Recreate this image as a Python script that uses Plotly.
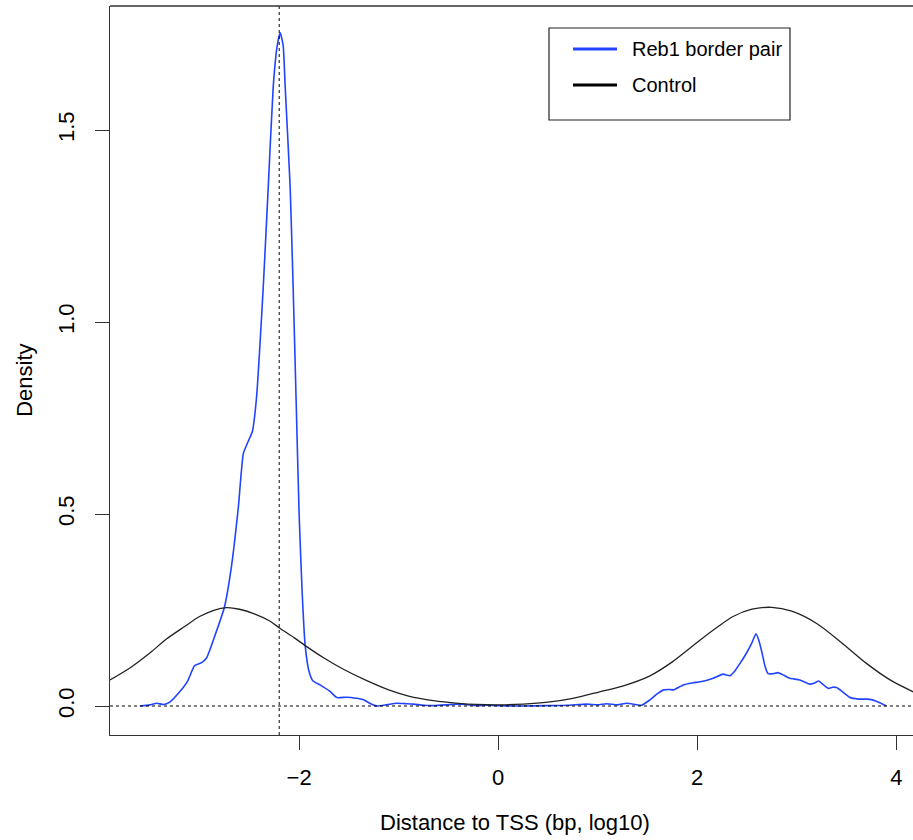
import plotly.graph_objects as go

# Blue density curve (Reb1 border pair)
reb1_x = [-3.60, -3.50, -3.43, -3.36, -3.30, -3.20, -3.12, -3.05, -2.98, -2.93, -2.83, -2.75,
          -2.68, -2.61, -2.56, -2.51, -2.47, -2.43, -2.36, -2.31, -2.26, -2.22, -2.19, -2.16,
          -2.14, -2.09, -2.06, -2.03, -2.00, -1.97, -1.94, -1.90, -1.86, -1.79, -1.69, -1.62,
          -1.52, -1.42, -1.36, -1.28, -1.22, -1.12, -1.02, -0.92, -0.85, -0.75, -0.65, -0.52,
          -0.42, -0.32, -0.22, -0.12, 0.00, 0.20, 0.50, 0.70, 0.89, 1.00, 1.09, 1.20, 1.29,
          1.38, 1.44, 1.52, 1.60, 1.66, 1.72, 1.76, 1.86, 1.95, 2.03, 2.10, 2.16, 2.26, 2.33,
          2.38, 2.43, 2.50, 2.55, 2.59, 2.62, 2.65, 2.68, 2.71, 2.76, 2.81, 2.87, 2.93, 3.03,
          3.13, 3.18, 3.22, 3.27, 3.32, 3.36, 3.40, 3.47, 3.53, 3.62, 3.70, 3.76, 3.84, 3.90]
reb1_y = [0.000, 0.003, 0.007, 0.004, 0.010, 0.037, 0.065, 0.105, 0.113, 0.125, 0.195, 0.258,
          0.363, 0.519, 0.658, 0.690, 0.715, 0.797, 1.092, 1.352, 1.613, 1.720, 1.753, 1.720,
          1.613, 1.352, 1.092, 0.797, 0.500, 0.300, 0.160, 0.090, 0.065, 0.055, 0.038, 0.022,
          0.023, 0.020, 0.017, 0.006, 0.000, 0.003, 0.007, 0.006, 0.005, 0.002, 0.001, 0.003,
          0.005, 0.004, 0.001, 0.002, 0.001, 0.000, 0.001, 0.002, 0.005, 0.003, 0.006, 0.003,
          0.007, 0.004, 0.002, 0.015, 0.032, 0.042, 0.043, 0.042, 0.055, 0.060, 0.063, 0.067,
          0.072, 0.083, 0.079, 0.092, 0.111, 0.140, 0.165, 0.188, 0.170, 0.140, 0.105, 0.085,
          0.084, 0.087, 0.080, 0.072, 0.068, 0.057, 0.060, 0.065, 0.055, 0.046, 0.049, 0.048,
          0.035, 0.023, 0.018, 0.018, 0.016, 0.008, 0.000]

# Black density curve (Control)
ctrl_x = [-3.90, -3.70, -3.50, -3.33, -3.15, -3.00, -2.85, -2.73, -2.60, -2.45, -2.30, -2.19,
          -2.05, -1.92, -1.75, -1.55, -1.32, -1.10, -0.90, -0.65, -0.40, -0.22, 0.00, 0.25,
          0.50, 0.75, 1.02, 1.25, 1.52, 1.75, 2.03, 2.20, 2.36, 2.55, 2.75, 2.95, 3.20, 3.45,
          3.70, 3.95, 4.17]
ctrl_y = [0.068, 0.099, 0.138, 0.175, 0.207, 0.233, 0.250, 0.256, 0.252, 0.240, 0.222, 0.202,
          0.178, 0.154, 0.125, 0.095, 0.066, 0.042, 0.026, 0.014, 0.007, 0.004, 0.003, 0.005,
          0.010, 0.020, 0.037, 0.052, 0.078, 0.115, 0.172, 0.205, 0.233, 0.252, 0.257, 0.247,
          0.215, 0.165, 0.111, 0.066, 0.037]

x_ticks = [-2, 0, 2, 4]
y_ticks = [0.0, 0.5, 1.0, 1.5]
y_tick_text = ["0.0", "0.5", "1.0", "1.5"]
tss_mark = -2.2
series_names = ["Reb1 border pair", "Control"]
series_colors = ["#2244ff", "#222222"]

X_RANGE = [-3.90, 4.168]
Y_RANGE = [-0.0755, 1.823]
FONT = "Liberation Sans, Arial, sans-serif"

fig = go.Figure()
fig.add_trace(go.Scatter(x=reb1_x, y=reb1_y, mode="lines", name=series_names[0],
                         line=dict(color=series_colors[0], width=1.6, shape="spline", smoothing=0.5),
                         showlegend=False))
fig.add_trace(go.Scatter(x=ctrl_x, y=ctrl_y, mode="lines", name=series_names[1],
                         line=dict(color=series_colors[1], width=1.3, shape="spline", smoothing=0.8),
                         showlegend=False))

shapes = [
    dict(type="line", xref="paper", yref="y", x0=0, x1=1, y0=0, y1=0,
         line=dict(color="black", width=1, dash="3px,3px")),
    dict(type="line", xref="x", yref="paper", x0=tss_mark, x1=tss_mark, y0=0, y1=1,
         line=dict(color="black", width=1, dash="3px,3px")),
    dict(type="line", xref="paper", yref="paper", x0=0, x1=1, y0=1, y1=1,
         line=dict(color="#333333", width=1.3)),
    dict(type="rect", xref="paper", yref="paper", x0=0.5467, x1=0.8468, y0=0.8436, y1=0.9698,
         line=dict(color="#222222", width=1.2), fillcolor="white"),
]
annotations = []
leg_y = [0.941, 0.8916]
for name, col, yy in zip(series_names, series_colors, leg_y):
    shapes.append(dict(type="line", xref="paper", yref="paper", x0=0.5766, x1=0.6314, y0=yy, y1=yy,
                       line=dict(color=col if col != "#222222" else "black", width=3)))
    annotations.append(dict(xref="paper", yref="paper", x=0.6476, y=yy, text=name, showarrow=False,
                            xanchor="left", yanchor="middle", font=dict(size=20, color="black", family=FONT)))

annotations.append(dict(xref="paper", yref="paper", x=0.504, y=-0.1207, text="Distance to TSS (bp, log10)",
                        showarrow=False, xanchor="center", yanchor="middle",
                        font=dict(size=22, color="black", family=FONT)))
annotations.append(dict(xref="paper", yref="paper", x=-0.106, y=0.487, text="Density", textangle=-90,
                        showarrow=False, xanchor="center", yanchor="middle",
                        font=dict(size=22, color="black", family=FONT)))

fig.update_layout(
    width=913, height=840,
    margin=dict(l=110, r=0, t=6, b=105),
    paper_bgcolor="white", plot_bgcolor="white",
    font=dict(family=FONT, size=22, color="black"),
    shapes=shapes, annotations=annotations,
    showlegend=False,
)
fig.update_xaxes(range=X_RANGE, tickmode="array", tickvals=x_ticks, ticks="outside", ticklen=14,
                 tickwidth=1.3, tickcolor="#333333", showline=True, linecolor="#333333", linewidth=1.3,
                 showgrid=False, zeroline=False, tickfont=dict(size=22), ticklabelstandoff=8)
fig.update_yaxes(range=Y_RANGE, tickmode="array", tickvals=y_ticks, ticktext=y_tick_text, ticks="outside",
                 ticklen=14, tickwidth=1.3, tickcolor="#333333", showline=True, linecolor="#333333",
                 linewidth=1.3, showgrid=False, zeroline=False, tickangle=-90, tickfont=dict(size=22),
                 ticklabelstandoff=12)

fig.write_html("out.html")
